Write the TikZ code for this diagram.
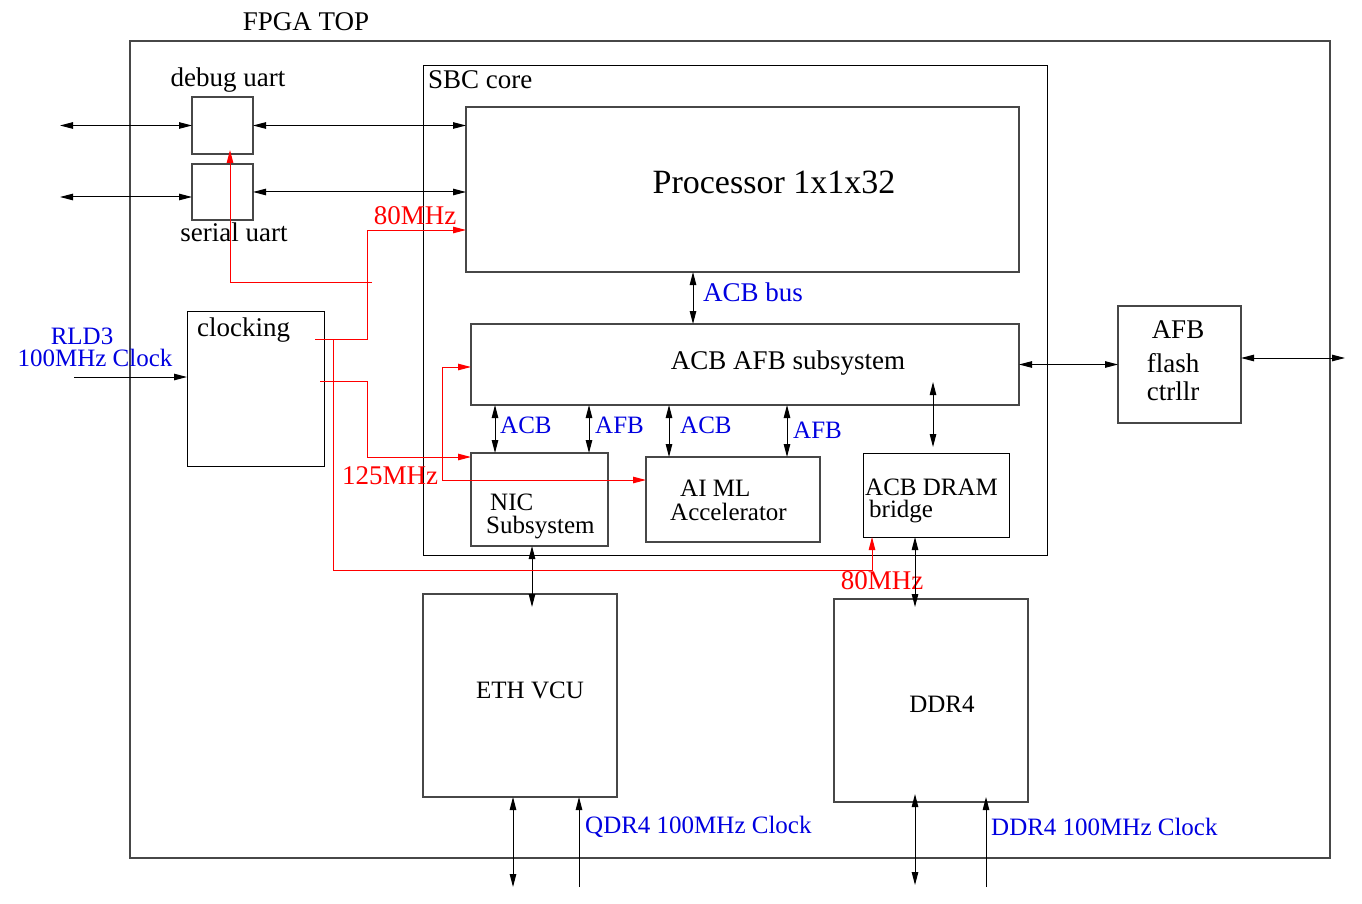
\documentclass[tikz,border=0pt]{standalone}
\usepackage{fontspec}
\setmainfont{Liberation Serif}
\usetikzlibrary{arrows.meta,calc}
\begin{document}
\begin{tikzpicture}[x=1pt,y=-1pt,
  box/.style={draw=black!72, line width=1.1pt, inner sep=0pt, outer sep=0pt, anchor=north west},
  bbox/.style={box, draw=black},
  txt/.style={inner sep=0pt, font=\fontsize{25}{28}\selectfont},
  big/.style={inner sep=0pt, font=\fontsize{27}{30}\selectfont},
  lbl/.style={txt, text=blue!88!black},
  clk/.style={big, text=red},
  tip/.tip={Triangle[length=13pt,width=6.5pt]},
  conn/.style={line width=1pt, black, tip-tip},
  one/.style={line width=1pt, black, -tip},
  rclk/.style={line width=1pt, red, -tip},
]
\useasboundingbox (0,0) rectangle (1362,904);
\fill[white] (0,0) rectangle (1362,904);

% boxes
\node[box, minimum width=1200pt, minimum height=817pt] (fpga) at (130,41) {};
\node[box, draw=black, line width=0.9pt, minimum width=624pt, minimum height=490pt] (sbc) at (423,65) {};
\node[box, minimum width=553pt, minimum height=165pt] (proc) at (466,107) {};
\node[box, minimum width=61pt, minimum height=57pt] (debug) at (192,97) {};
\node[box, minimum width=61pt, minimum height=56pt] (serial) at (192,164) {};
\node[bbox, line width=0.9pt, minimum width=137pt, minimum height=155pt] (clocking) at (187,311) {};
\node[box, minimum width=548pt, minimum height=81pt] (acbafb) at (471,324) {};
\node[box, minimum width=137pt, minimum height=93pt] (nic) at (471,453) {};
\node[box, minimum width=174pt, minimum height=85pt] (aiml) at (646,457) {};
\node[bbox, line width=0.9pt, minimum width=146pt, minimum height=84pt] (bridge) at (863,453) {};
\node[box, minimum width=194pt, minimum height=203pt] (eth) at (423,594) {};
\node[box, minimum width=194pt, minimum height=203pt] (ddr) at (834,599) {};
\node[box, minimum width=123pt, minimum height=117pt] (afbctl) at (1118,306) {};

% texts
\node[big] (tfpga) at (306,22) {FPGA TOP};
\node[big, anchor=west] (tsbc) at (428,80) {SBC core};
\node[big] (tdebug) at (228,80) {debug uart};
\node[big] (tserial) at (234,232) {serial uart};
\node[inner sep=0pt, font=\fontsize{34}{36}\selectfont] (tproc) at (774,182) {Processor 1x1x32};
\node[big, anchor=west] (tclocking) at (197,330) {clocking};
\node[lbl] (trld1) at (82,336) {RLD3};
\node[lbl] (trld2) at (95,358) {100MHz Clock};
\node[big] (tacbafb) at (788,363) {ACB AFB subsystem};
\node[lbl, font=\fontsize{27}{30}\selectfont, anchor=west] (tbus) at (703,292) {ACB bus};
\node[lbl, anchor=west] (tl1) at (500,425) {ACB};
\node[lbl, anchor=west] (tl2) at (595,425) {AFB};
\node[lbl, anchor=west] (tl3) at (680,425) {ACB};
\node[lbl, anchor=west] (tl4) at (793,430) {AFB};
\node[txt, anchor=west] (tnic1) at (490,502) {NIC};
\node[txt, anchor=west] (tnic2) at (486,528) {Subsystem};
\node[txt, anchor=west] (tai1) at (680,488) {AI ML};
\node[txt, anchor=west] (tai2) at (670,512) {Accelerator};
\node[txt, anchor=west] (tbr1) at (865,487) {ACB DRAM};
\node[txt, anchor=west] (tbr2) at (869,512) {bridge};
\node[txt] (teth) at (530,690) {ETH VCU};
\node[txt] (tddr) at (942,704) {DDR4};
\node[big] (tafb1) at (1178,330) {AFB};
\node[big] (tafb2) at (1173,363) {flash};
\node[big] (tafb3) at (1173,391) {ctrllr};
\node[lbl, anchor=west] (tqdr) at (585,827) {QDR4 100MHz Clock};
\node[lbl, anchor=west] (tddrclk) at (991,827) {DDR4 100MHz Clock};
\node[clk] (tf1) at (415,216) {80MHz};
\node[clk] (tf2) at (390,476) {125MHz};
\node[clk] (tf3) at (882,581) {80MHz};

% black connectors
\coordinate (dbgext) at (60,125.5);
\coordinate (serext) at (60,197);
\draw[conn] (dbgext) -- (debug.west);
\draw[conn] (debug.east) -- (debug.east -| proc.west);
\draw[conn] (serext) -- (serext -| serial.west);
\draw[conn] (serial.east) -- (serial.east -| proc.west);
\draw[conn] ([xshift=227pt]proc.south west) -- ([xshift=227pt]proc.south west |- acbafb.north);
\draw[conn] ([xshift=24pt]nic.north west |- acbafb.south) -- ([xshift=24pt]nic.north west);
\draw[conn] ([xshift=118pt]nic.north west |- acbafb.south) -- ([xshift=118pt]nic.north west);
\draw[conn] ([xshift=23pt]aiml.north west |- acbafb.south) -- ([xshift=23pt]aiml.north west);
\draw[conn] ([xshift=141pt]aiml.north west |- acbafb.south) -- ([xshift=141pt]aiml.north west);
\draw[conn] ([xshift=70pt,yshift=23pt]bridge.north west |- acbafb.south) -- ([xshift=70pt,yshift=6pt]bridge.north west);
\draw[conn] ([xshift=52pt]bridge.south west) -- ([xshift=52pt,yshift=-8pt]bridge.south west |- ddr.north);
\draw[conn] ([xshift=61pt]nic.south west) -- ([xshift=61pt,yshift=-13pt]nic.south west |- eth.north);
\draw[conn] (acbafb.east) -- (acbafb.east -| afbctl.west);
\coordinate (afbext) at (1345,358);
\draw[conn] (afbext -| afbctl.east) -- (afbext);
\coordinate (rldin) at (74,377);
\draw[one] (rldin) -- (rldin -| clocking.west);
\coordinate (ethio) at (513,887);
\coordinate (qdrin) at (579,887);
\coordinate (ddrio) at (915,885);
\coordinate (ddrin) at (986,887);
\draw[conn] (ethio) -- (ethio |- eth.south);
\draw[one] (qdrin) -- (qdrin |- eth.south);
\draw[conn] (ddrio) -- ([yshift=8pt]ddrio |- ddr.south);
\draw[one] (ddrin) -- ([yshift=5pt]ddrin |- ddr.south);

% red clock connectors
\coordinate (clkA) at (315,339);
\coordinate (clkB) at (320,381);
\coordinate (r1) at (367,230);
\coordinate (r2) at (333,570);
\coordinate (r3) at (372,282);
\coordinate (r4) at (367,457);
\coordinate (r5) at (442,480);
\coordinate (r6) at (442,367);
\draw[rclk] (clkA) -| (r1) -- (r1 -| proc.west);
\draw[rclk] (r2 |- clkA) -- (r2) -| ([xshift=9pt]bridge.south west);
\draw[rclk] (r3) -| ([xshift=38pt,yshift=4pt]debug.south west);
\draw[rclk] (clkB) -| (r4) -- (r4 -| nic.west);
\draw[rclk] (r5) -- (r6) -- (r6 -| acbafb.west);
\draw[rclk] (r5) -- (r5 -| aiml.west);
\end{tikzpicture}
\end{document}
